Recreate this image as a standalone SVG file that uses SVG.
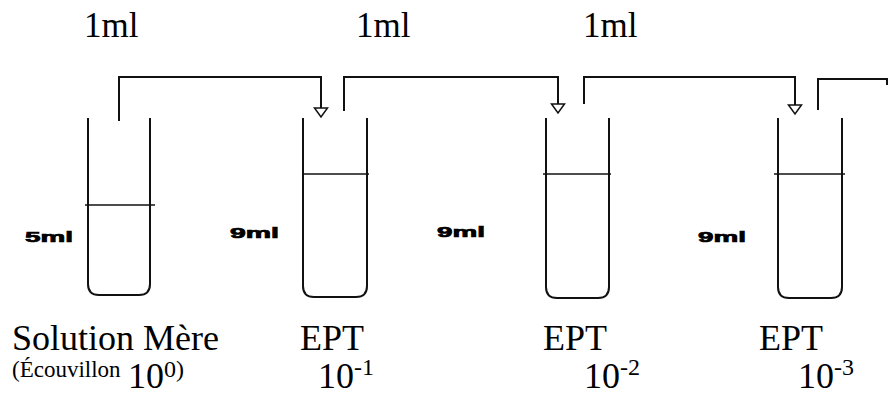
<svg xmlns="http://www.w3.org/2000/svg" width="888" height="396" viewBox="0 0 888 396">
<style>
.tube{fill:none;stroke:#111;stroke-width:2}
.lvl{stroke:#111;stroke-width:1.6}
.con{fill:none;stroke:#111;stroke-width:2}
.vol{font-family:"Liberation Sans",Arial,sans-serif;font-weight:bold;font-size:15px;fill:#000;stroke:#000;stroke-width:0.7}
.ser{font-family:"Liberation Serif","Times New Roman",serif;fill:#000}
</style>
<defs>
<marker id="arr" markerUnits="userSpaceOnUse" markerWidth="16" markerHeight="12" viewBox="0 0 16 12" refX="8" refY="1" orient="0">
<path d="M1.5 1 H14.5 L8 10 Z" fill="#fff" stroke="#111" stroke-width="1.5"/>
</marker>
</defs>
<rect width="888" height="396" fill="#fff"/>
<g id="connectors">
<path class="con" d="M119 121 V77 H321 V108" marker-end="url(#arr)"/>
<path class="con" d="M344 111 V77 H558 V104" marker-end="url(#arr)"/>
<path class="con" d="M584 104 V77 H795 V105" marker-end="url(#arr)"/>
<path class="con" d="M818 110 V79 H887 V85"/>
</g>
<g id="tube1">
<path class="tube" d="M88 118 V284 Q88 295 99 295 H139 Q150 295 150 284 V118"/>
<line class="lvl" x1="85" y1="205" x2="155" y2="205"/>
<text class="vol" x="25" y="242" textLength="48" lengthAdjust="spacingAndGlyphs">5ml</text>
<text class="ser" x="12" y="350" font-size="36">Solution Mère</text>
<text class="ser" x="12" y="377" font-size="23">(Écouvillon</text>
<text class="ser" x="128" y="388" font-size="36">10<tspan font-size="24" dy="-11">0)</tspan></text>
</g>
<g id="tube2">
<path class="tube" d="M303 118 V286 Q303 297 314 297 H356 Q367 297 367 286 V118"/>
<line class="lvl" x1="302" y1="174" x2="369" y2="174"/>
<text class="vol" x="230" y="238" textLength="49" lengthAdjust="spacingAndGlyphs">9ml</text>
<text class="ser" x="300" y="350" font-size="36">EPT</text>
<text class="ser" x="318" y="388" font-size="36">10<tspan font-size="24" dy="-13">-1</tspan></text>
</g>
<g id="tube3">
<path class="tube" d="M546 118 V287 Q546 298 557 298 H598 Q609 298 609 287 V118"/>
<line class="lvl" x1="543" y1="174" x2="611" y2="174"/>
<text class="vol" x="437" y="237" textLength="48" lengthAdjust="spacingAndGlyphs">9ml</text>
<text class="ser" x="543" y="350" font-size="36">EPT</text>
<text class="ser" x="584" y="388" font-size="36">10<tspan font-size="24" dy="-13">-2</tspan></text>
</g>
<g id="tube4">
<path class="tube" d="M778 118 V287 Q778 298 789 298 H831 Q842 298 842 287 V118"/>
<line class="lvl" x1="774" y1="174" x2="845" y2="174"/>
<text class="vol" x="698" y="242" textLength="48" lengthAdjust="spacingAndGlyphs">9ml</text>
<text class="ser" x="759" y="350" font-size="36">EPT</text>
<text class="ser" x="798" y="388" font-size="36">10<tspan font-size="24" dy="-13">-3</tspan></text>
</g>
<g id="labels">
<text class="ser" x="84" y="37" font-size="35">1ml</text>
<text class="ser" x="356" y="37" font-size="35">1ml</text>
<text class="ser" x="583" y="37" font-size="35">1ml</text>
</g>
</svg>
